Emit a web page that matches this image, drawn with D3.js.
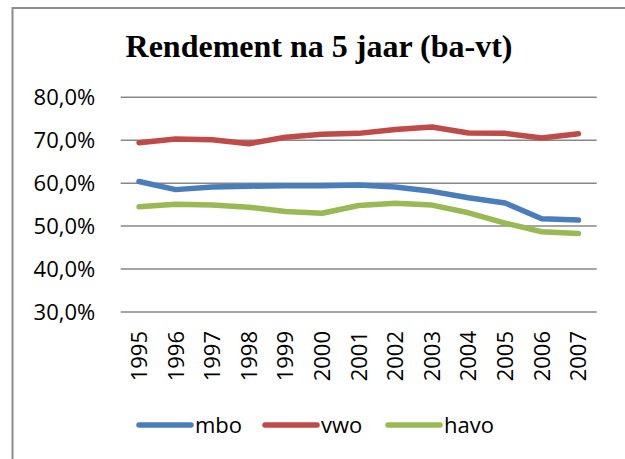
<!DOCTYPE html>
<html>
<head>
<meta charset="utf-8">
<script src="https://cdn.jsdelivr.net/npm/d3@7"></script>
<style>
    html, body { margin: 0; padding: 0; background: #fff; }
    svg { display: block; }
</style>
</head>
<body>
<div id="chart"></div>
<script>
    // values
    var years = ['1995', '1996', '1997', '1998', '1999', '2000', '2001', '2002', '2003', '2004', '2005', '2006', '2007'];
    var mbo  = [60.4, 58.5, 59.1, 59.3, 59.4, 59.4, 59.6, 59.1, 58.1, 56.6, 55.4, 51.7, 51.4];
    var vwo  = [69.4, 70.3, 70.1, 69.2, 70.7, 71.4, 71.6, 72.5, 73.1, 71.7, 71.6, 70.5, 71.5];
    var havo = [54.5, 55.1, 54.9, 54.4, 53.4, 53.0, 54.8, 55.3, 54.9, 53.1, 50.7, 48.7, 48.3];
    var yTicks = [30, 40, 50, 60, 70, 80];
    var seriesNames = ['mbo', 'vwo', 'havo'];
    var seriesColors = ['#4a7ebb', '#be4b48', '#98b954'];

    var width = 625, height = 459;
    var plot = {left: 120.7, right: 596.7, top: 97.3, bottom: 312};

    var svg = d3.select('#chart').append('svg')
        .attr('width', width)
        .attr('height', height);

    // outer chart border (right and bottom edges fall outside the picture)
    svg.append('rect')
        .attr('x', 12.5).attr('y', 8)
        .attr('width', 640).attr('height', 480)
        .attr('fill', '#fff')
        .attr('stroke', '#8c8c8c')
        .attr('stroke-width', 2);

    svg.append('text')
        .attr('x', 319).attr('y', 57)
        .attr('text-anchor', 'middle')
        .style('font-family', '"Liberation Serif", "Times New Roman", serif')
        .style('font-weight', 'bold')
        .style('font-size', '32px')
        .text('Rendement na 5 jaar (ba-vt)');

    var x = d3.scalePoint()
        .domain(years)
        .range([plot.left, plot.right])
        .padding(0.5);

    var y = d3.scaleLinear()
        .domain([30, 80])
        .range([plot.bottom, plot.top]);

    var labelFont = '"Open Sans", "Noto Sans", sans-serif';

    // horizontal gridlines
    svg.append('g').selectAll('line')
        .data(yTicks)
        .enter().append('line')
        .attr('x1', plot.left).attr('x2', plot.right)
        .attr('y1', function (d) { return y(d); })
        .attr('y2', function (d) { return y(d); })
        .attr('stroke', '#878787')
        .attr('stroke-width', 1.5);

    var yAxis = svg.append('g')
        .attr('transform', 'translate(' + plot.left + ',0)')
        .call(d3.axisLeft(y)
            .tickValues(yTicks)
            .tickSize(0)
            .tickPadding(25.5)
            .tickFormat(function (d) { return d3.format('.1f')(d).replace('.', ',') + '%'; }));
    yAxis.select('.domain').remove();
    yAxis.selectAll('text')
        .style('font-family', labelFont)
        .style('font-size', '22px')
        .attr('fill', '#000');

    // rotated year labels
    svg.append('g').selectAll('text')
        .data(years)
        .enter().append('text')
        .attr('transform', function (d) { return 'translate(' + x(d) + ',331) rotate(-90)'; })
        .attr('text-anchor', 'end')
        .attr('dy', '0.36em')
        .style('font-family', labelFont)
        .style('font-size', '22px')
        .text(function (d) { return d; });

    var line = d3.line()
        .x(function (d, i) { return x(years[i]); })
        .y(function (d) { return y(d); });

    var allSeries = [mbo, vwo, havo];
    svg.append('g').selectAll('path')
        .data(allSeries)
        .enter().append('path')
        .attr('d', line)
        .attr('fill', 'none')
        .attr('stroke', function (d, i) { return seriesColors[i]; })
        .attr('stroke-width', 5.5)
        .attr('stroke-linecap', 'round')
        .attr('stroke-linejoin', 'round');

    // legend
    var legendX = [139, 265, 388];
    var legend = svg.append('g').selectAll('g')
        .data(seriesNames)
        .enter().append('g')
        .attr('transform', function (d, i) { return 'translate(' + legendX[i] + ',425)'; });
    legend.append('line')
        .attr('x1', 0).attr('x2', 52)
        .attr('stroke', function (d, i) { return seriesColors[i]; })
        .attr('stroke-width', 5.5)
        .attr('stroke-linecap', 'round');
    legend.append('text')
        .attr('x', 56)
        .attr('dy', '0.36em')
        .style('font-family', labelFont)
        .style('font-size', '22px')
        .text(function (d) { return d; });
</script>
</body>
</html>
